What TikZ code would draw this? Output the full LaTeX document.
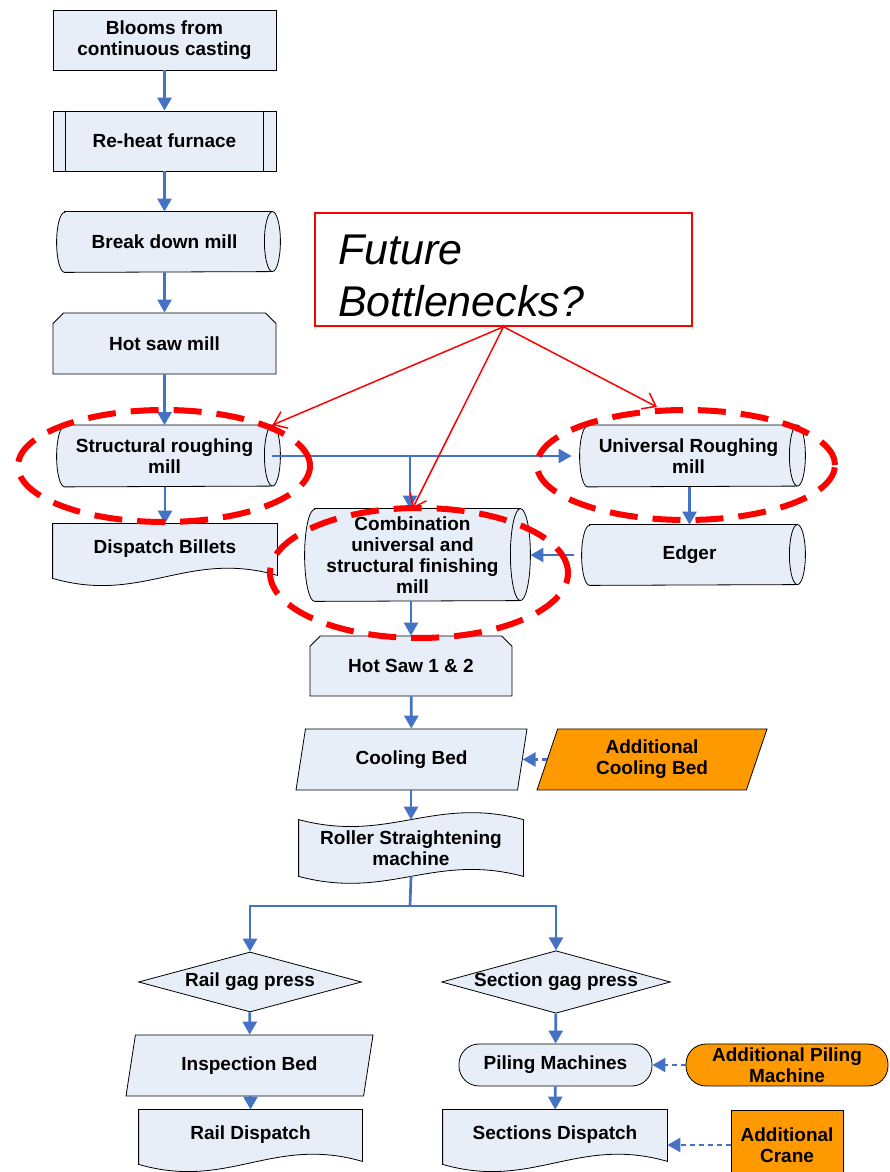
\documentclass[tikz,border=0pt]{standalone}
\usepackage{fontspec}
\setmainfont{Liberation Sans}
\usetikzlibrary{shapes.geometric,shapes.misc,arrows.meta,backgrounds}

\definecolor{boxfill}{HTML}{E8EEF8}
\definecolor{extrafill}{HTML}{FF9900}
\definecolor{flowblue}{HTML}{4472C4}

\begin{document}
\begin{tikzpicture}[x=1pt,y=1pt,
    stepbox/.style={draw=black,line width=0.8pt,fill=boxfill,inner sep=0pt,align=center,
      font=\bfseries\fontsize{19}{21}\selectfont,minimum width=223pt,minimum height=60pt},
    plainbox/.style={stepbox,rectangle},
    millbox/.style={stepbox,rectangle,draw=none,fill=none,minimum width=215pt},
    sawbox/.style={stepbox,chamfered rectangle,chamfered rectangle corners={north west,north east},
      chamfered rectangle xsep=13pt},
    docbox/.style={stepbox,rectangle,draw=none,fill=none},
    bedbox/.style={stepbox,trapezium,trapezium left angle=62,trapezium right angle=118,
      trapezium stretches body},
    gagbox/.style={stepbox,diamond,aspect=3.66},
    pilebox/.style={stepbox,rectangle,rounded corners=20pt,minimum height=42pt},
    extra/.style={fill=extrafill},
    outline/.style={draw=black,line width=0.8pt,fill=boxfill},
    flow/.style={draw=flowblue,line width=2.7pt,-{Triangle[length=13pt,width=14pt]}},
    feed/.style={flow,dash pattern=on 5pt off 4pt},
    ring/.style={draw=red,line width=6pt,dash pattern=on 28pt off 15pt,ellipse,inner sep=0pt},
    hint/.style={draw=red,line width=1.5pt,-{Straight Barb[length=12pt,width=18pt]}}
  ]
  \clip (0,0) rectangle (890,1172);

  \node[plainbox] (blooms) at (164.5,1132) {Blooms from\\continuous casting};
  \node[plainbox] (reheat) at (164.5,1031) {Re-heat furnace};
  \node[millbox] (breakdown) at (164.5,930) {Break down mill};
  \node[sawbox,minimum height=61pt] (hotsaw) at (164.5,828.5) {Hot saw mill};
  \node[millbox,minimum height=61pt] (structrough) at (164.5,716) {Structural roughing\\mill};
  \node[docbox,minimum width=224pt,minimum height=50pt] (billets) at (165,623) {Dispatch Billets};
  \node[millbox,minimum height=92pt] (combination) at (412.5,617)
    {Combination\\universal and\\structural finishing\\mill};
  \node[millbox,minimum width=217pt,minimum height=61pt] (univrough) at (688.5,716) {Universal Roughing\\mill};
  \node[millbox] (edger) at (689.5,617) {Edger};
  \node[sawbox,minimum width=202pt] (hotsaw2) at (411,506) {Hot Saw 1 \& 2};
  \node[bedbox,minimum width=231pt,minimum height=61pt] (cooling) at (411.5,412.5) {Cooling Bed};
  \node[bedbox,extra,minimum width=230pt,minimum height=61pt] (addcooling) at (652,412.5) {Additional\\Cooling Bed};
  \node[docbox,minimum width=224pt,minimum height=56pt] (roller) at (411,324) {Roller Straightening\\machine};
  \node[gagbox] (railgag) at (250,190) {Rail gag press};
  \node[gagbox] (secgag) at (556,190) {Section gag press};
  \node[bedbox,minimum width=247pt,minimum height=61pt] (inspect) at (249.5,106.5) {Inspection Bed};
  \node[pilebox,minimum width=193pt] (piling) at (555.5,107) {Piling Machines};
  \node[pilebox,extra,minimum width=202pt] (addpiling) at (787,107) {Additional Piling\\Machine};
  \node[docbox,minimum height=50pt] (raildisp) at (250.5,37) {Rail Dispatch};
  \node[docbox,minimum width=224pt,minimum height=50pt] (secdisp) at (555,37) {Sections Dispatch};
  \node[plainbox,extra,minimum width=112pt,minimum height=70pt] (addcrane) at (787,27) {Additional\\Crane};
  \node[draw=red,line width=1.5pt,inner sep=0pt,minimum width=377pt,minimum height=113pt,
    text width=331pt,align=left,font=\itshape\fontsize{43}{52}\selectfont] (future) at (503.5,902.5)
    {\rule{0pt}{43pt}Future\\Bottlenecks?};

  \begin{scope}[on background layer]
    \foreach \d in {billets,raildisp,secdisp}
      \filldraw[outline] (\d.north west) -- (\d.north east)
        -- ([yshift=-1pt]\d.south east) .. controls +(-90pt,26pt) and +(90pt,-26pt) .. ([yshift=-4pt]\d.south west) -- cycle;
    \filldraw[outline] (roller.north west)
      .. controls +(90pt,-24pt) and +(-90pt,24pt) .. (roller.north east)
      -- (roller.south east) .. controls +(-90pt,24pt) and +(90pt,-24pt) .. (roller.south west) -- cycle;
    \foreach \d/\r/\a in {breakdown/30/8,structrough/30.5/8,combination/46/10,univrough/30.5/8,edger/30/8} {
      \filldraw[outline] ([xshift=\a pt]\d.north west) -- (\d.north east)
        arc[start angle=90,end angle=-90,x radius=\a,y radius=\r] -- ([xshift=\a pt]\d.south west)
        arc[start angle=270,end angle=90,x radius=\a,y radius=\r] -- cycle;
      \draw[line width=0.8pt] (\d.north east) arc[start angle=90,end angle=270,x radius=\a,y radius=\r];
    }
  \end{scope}
  \draw[line width=0.8pt] ([xshift=13pt]reheat.north west) -- ([xshift=13pt]reheat.south west)
    ([xshift=-13pt]reheat.north east) -- ([xshift=-13pt]reheat.south east);

  \coordinate (split) at (410,716);
  \coordinate (fork) at (410,266);
  \draw[flow] (blooms) -- (reheat);
  \draw[flow] (reheat) -- (breakdown);
  \draw[flow] (breakdown) -- (hotsaw);
  \draw[flow] (hotsaw) -- (structrough);
  \draw[flow] (structrough.south -| billets.north) -- (billets.north);
  \draw[flow] (structrough.east) -- ([xshift=-8pt]univrough.west);
  \draw[flow] (split) -- (split |- combination.north);
  \draw[flow] (univrough.south -| edger.north) -- (edger.north);
  \draw[flow] ([xshift=-8pt]edger.west) -- ([xshift=10pt]combination.east);
  \draw[flow] (hotsaw2.north |- combination.south) -- (hotsaw2.north);
  \draw[flow] (hotsaw2) -- (cooling);
  \draw[feed] (addcooling.west) -- (cooling.east);
  \draw[flow] (cooling.south -| roller.north) -- (roller.north);
  \draw[flow,-] (roller.south) -- (fork);
  \draw[flow] (fork) -| (railgag.north);
  \draw[flow] (fork) -| (secgag.north);
  \draw[flow] (railgag) -- (inspect);
  \draw[flow] (inspect.south -| raildisp.north) -- (raildisp.north);
  \draw[flow] (secgag) -- (piling);
  \draw[feed] (addpiling.west) -- (piling.east);
  \draw[flow] (piling) -- (secdisp);
  \draw[feed] (addcrane.west) -- (addcrane.west -| secdisp.east);

  \node[ring,minimum width=292pt,minimum height=112pt] (roughring) at (164,706) {};
  \node[ring,minimum width=298pt,minimum height=110pt] (univring) at (686,707) {};
  \node[ring,minimum width=298pt,minimum height=130pt] (combring) at (419,599) {};

  \draw[hint] (future.south) -- (structrough.north east);
  \draw[hint] (future.south) -- (combination.north);
  \draw[hint] (future.south) -- ([xshift=-29pt]univring.north);
\end{tikzpicture}
\end{document}
